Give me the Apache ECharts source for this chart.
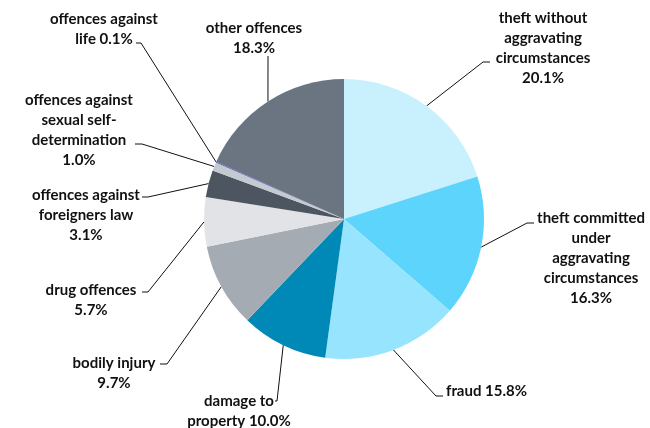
<!DOCTYPE html>
<html>
<head>
<meta charset="utf-8">
<script src="https://cdn.jsdelivr.net/npm/echarts@6/dist/echarts.min.js"></script>
<style>html,body{margin:0;padding:0;background:#fff}#c{width:650px;height:428px}</style>
</head>
<body>
<div id="c"></div>
<script>
// Data
const categories = [
  'theft without\naggravating\ncircumstances',
  'theft committed\nunder\naggravating\ncircumstances',
  'fraud',
  'damage to\nproperty',
  'bodily injury',
  'drug offences',
  'offences against\nforeigners law',
  'offences against\nsexual self-\ndetermination',
  'offences against\nlife',
  'other offences'
];
const shares = [20.1, 16.3, 15.8, 10.0, 9.7, 5.7, 3.1, 1.0, 0.1, 18.3];
const joiners = ['\n', '\n', ' ', ' ', '\n', '\n', '\n', '\n', ' ', '\n'];
const colors = ['#c9f0fd', '#5cd4fc', '#96e4fd', '#0089b6', '#a5abb2', '#e1e3e6', '#4d5560', '#c5cad0', '#3a46c8', '#6b7581'];

// Label placement (text anchor x, top y, alignment, line bend/end points)
const labelPlaces = [
  {x: 543, y: 8, align: 'center', bend: [483, 62], end: [490, 62]},
  {x: 591, y: 208, align: 'center', bend: [527, 223], end: [534, 223]},
  {x: 446, y: 381, align: 'left', bend: [436, 396], end: [443, 396]},
  {x: 239, y: 391, align: 'center', bend: [277, 401], end: [275, 401]},
  {x: 114, y: 353, align: 'center', bend: [167, 364], end: [160, 364]},
  {x: 91, y: 280, align: 'center', bend: [148, 292], end: [142, 292]},
  {x: 86, y: 185, align: 'center', bend: [148, 197], end: [142, 197]},
  {x: 79, y: 90, align: 'center', bend: [142, 144], end: [135, 144]},
  {x: 104, y: 9, align: 'center', bend: [141, 43], end: [136, 43]},
  {x: 254, y: 18, align: 'center', bend: [268, 56], end: [268, 56]}
];

const chart = echarts.init(document.getElementById('c'), null, {renderer: 'canvas'});
chart.setOption({
  animation: false,
  series: [{
    type: 'pie',
    center: [344, 219],
    radius: 140,
    startAngle: 90,
    clockwise: true,
    silent: true,
    avoidLabelOverlap: false,
    itemStyle: {borderWidth: 0},
    data: categories.map((c, i) => ({
      name: c,
      value: shares[i],
      itemStyle: {color: colors[i]}
    })),
    label: {
      show: true,
      formatter: p => p.name + joiners[p.dataIndex] + p.value.toFixed(1) + '%',
      fontFamily: 'Lato',
      fontWeight: 'bold',
      fontSize: 15,
      lineHeight: 20,
      color: '#111111'
    },
    labelLine: {
      show: true,
      length: 20,
      length2: 8,
      lineStyle: {color: '#111111', width: 1}
    },
    labelLayout: function (params) {
      const pl = labelPlaces[params.dataIndex];
      const p0 = params.labelLinePoints ? params.labelLinePoints[0] : null;
      const out = {x: pl.x, y: pl.y, align: pl.align, verticalAlign: 'top'};
      if (p0) {
        out.labelLinePoints = [[p0[0], p0[1]], pl.bend, pl.end];
      }
      return out;
    }
  }]
});
</script>
</body>
</html>
